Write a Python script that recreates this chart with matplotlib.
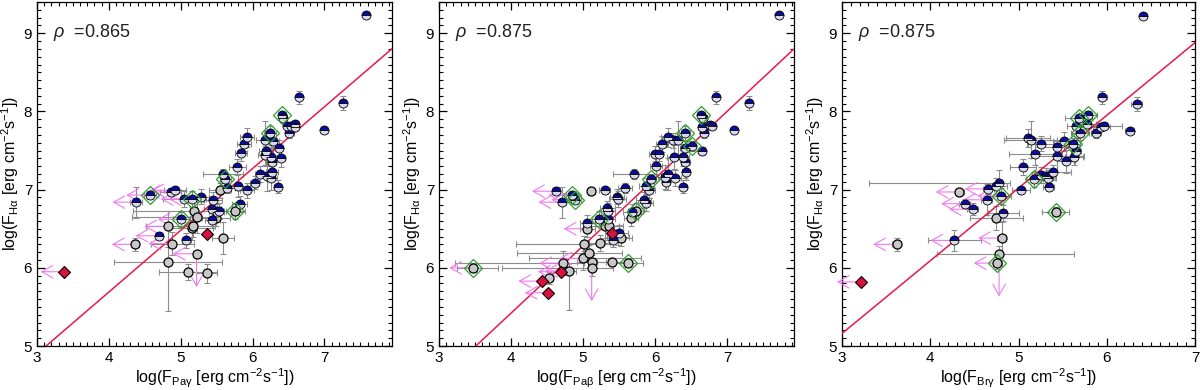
import numpy as np
import matplotlib
matplotlib.use("Agg")
import matplotlib.pyplot as plt

plt.rcParams['font.family'] = ['Liberation Sans', 'DejaVu Sans']
plt.rcParams['mathtext.fontset'] = 'custom'
plt.rcParams['mathtext.rm'] = 'Liberation Sans'
plt.rcParams['mathtext.it'] = 'Liberation Sans:italic'

# ---------------- panel 1 : Pa gamma ----------------
pag_blue_x = [7.58, 6.64, 7.26, 6.99, 6.41, 6.43, 6.48, 6.54, 6.59, 6.59, 6.51, 6.24, 6.17, 6.29,
              5.92, 5.88, 5.84, 6.19, 6.37, 6.17, 6.26, 6.39, 6.27, 5.79, 6.10, 6.20, 6.27, 6.26,
              6.03, 6.35, 5.59, 5.62, 5.65, 5.80, 5.92, 5.28, 4.57, 4.86, 4.92, 4.38, 5.05, 5.16,
              5.45, 5.82, 5.44, 5.50, 5.53, 5.44, 5.01, 4.70, 5.08]
pag_blue_y = [9.23, 8.18, 8.11, 7.76, 7.95, 7.92, 7.82, 7.82, 7.84, 7.80, 7.72, 7.72, 7.64, 7.62,
              7.67, 7.59, 7.47, 7.50, 7.53, 7.44, 7.42, 7.41, 7.35, 7.29, 7.20, 7.18, 7.23, 7.15,
              7.09, 7.04, 7.20, 7.14, 7.02, 7.05, 6.99, 6.91, 6.93, 6.97, 6.99, 6.84, 6.88, 6.88,
              6.87, 6.82, 6.75, 6.71, 6.73, 6.61, 6.62, 6.41, 6.35]
pag_blue_xerr = [0.03, 0.04, 0.04, 0.03, 0.04, 0.04, 0.04, 0.06, 0.04, 0.04, 0.06, 0.08, 0.12, 0.08,
                 0.1, 0.1, 0.08, 0.1, 0.05, 0.1, 0.08, 0.06, 0.06, 0.12, 0.06, 0.1, 0.08, 0.08,
                 0.06, 0.05, 0.28, 0.08, 0.1, 0.12, 0.1, 0.12, 0.08, 0.15, 0.15, 0.08, 0.3, 0.15,
                 0.12, 0.1, 0.12, 0.1, 0.1, 0.1, 0.12, 0.06, 0.06]
pag_blue_yerr = [0.03, 0.08, 0.09, 0.03, 0.04, 0.04, 0.04, 0.04, 0.04, 0.04, 0.06, 0.1, 0.24, 0.1,
                 0.12, 0.1, 0.1, 0.2, 0.1, 0.12, 0.15, 0.12, 0.2, 0.1, 0.1, 0.2, 0.1, 0.15,
                 0.08, 0.08, 0.06, 0.06, 0.06, 0.15, 0.1, 0.1, 0.05, 0.05, 0.05, 0.2, 0.1, 0.1,
                 0.1, 0.1, 0.1, 0.1, 0.1, 0.1, 0.1, 0.05, 0.1]
pag_grey_x = [5.55, 5.19, 5.22, 5.49, 5.75, 4.82, 5.15, 5.17, 5.59, 4.37, 4.88, 5.22, 4.82, 5.10, 5.36]
pag_grey_y = [6.99, 6.73, 6.65, 6.64, 6.73, 6.53, 6.51, 6.54, 6.38, 6.30, 6.31, 6.18, 6.07, 5.95, 5.93]
pag_grey_xerr = [0.15, (0.85, 0.3), (0.9, 0.3), 0.2, 0.15, 0.3, 0.3, 0.3, 0.15, 0.05, 0.3, 0.05,
                 0.75, 0.4, 0.15]
pag_grey_yerr = [0.1, 0.15, 0.2, 0.1, 0.1, 0.2, 0.15, 0.15, 0.2, 0.08, 0.15, 0.05, (0.62, 0.2),
                 0.1, 0.12]
pag_red_x = [3.38, 5.36]
pag_red_y = [5.95, 6.43]
pag_green_x = [6.41, 6.24, 5.62, 4.57, 5.16, 5.01, 5.75]
pag_green_y = [7.95, 7.72, 7.14, 6.93, 6.88, 6.62, 6.73]
pag_ulx_x = [4.38, 4.57, 4.86, 4.92, 5.05, 5.16, 5.01, 4.82, 4.70, 4.37, 4.88, 5.22, 3.38]
pag_ulx_y = [6.84, 6.93, 6.97, 6.99, 6.88, 6.88, 6.62, 6.53, 6.41, 6.30, 6.31, 6.18, 5.95]
pag_uly_x = [5.22]
pag_uly_y = [6.18]
pag_fit = (0.79, 2.53)
pag_rho = 0.865

# ---------------- panel 2 : Pa beta ----------------
pab_blue_x = [7.72, 6.85, 7.31, 7.10, 6.64, 6.67, 6.65, 6.76, 6.79, 6.68, 6.65, 6.41, 6.51, 6.18,
              6.25, 6.32, 6.09, 6.00, 6.05, 6.26, 6.39, 6.41, 6.42, 6.01, 6.43, 6.18, 6.14, 6.28,
              6.15, 6.39, 5.95, 5.88, 5.92, 5.84, 5.87, 5.71, 5.58, 5.30, 5.47, 5.48, 5.34, 5.35,
              5.35, 4.62, 4.85, 4.89, 4.71, 5.22, 5.06, 5.68, 5.50, 5.42]
pab_blue_y = [9.23, 8.18, 8.11, 7.76, 7.95, 7.92, 7.80, 7.83, 7.82, 7.72, 7.49, 7.72, 7.56, 7.67,
              7.63, 7.64, 7.58, 7.46, 7.46, 7.42, 7.42, 7.53, 7.35, 7.30, 7.22, 7.20, 7.16, 7.15,
              7.10, 7.04, 7.14, 7.05, 6.99, 6.87, 6.83, 7.20, 7.02, 6.99, 6.91, 6.88, 6.76, 6.73,
              6.63, 6.98, 6.93, 6.87, 6.84, 6.63, 6.57, 6.72, 6.45, 6.36]
pab_blue_xerr = [0.03, 0.04, 0.04, 0.03, 0.05, 0.05, 0.05, 0.06, 0.06, 0.05, 0.05, 0.08, 0.06, 0.1,
                 0.08, 0.1, 0.08, 0.08, 0.06, 0.1, 0.08, 0.06, 0.06, 0.08, 0.05, 0.1, 0.1, 0.08,
                 0.06, 0.05, 0.06, 0.1, 0.08, 0.1, 0.1, 0.3, 0.1, 0.08, 0.1, 0.12, 0.1, 0.1,
                 0.1, 0.05, 0.08, 0.08, 0.06, 0.1, 0.1, 0.12, 0.12, 0.12]
pab_blue_yerr = [0.03, 0.08, 0.09, 0.03, 0.04, 0.04, 0.04, 0.04, 0.04, 0.06, 0.05, 0.1, 0.06, 0.12,
                 0.1, 0.24, 0.1, 0.1, 0.1, 0.15, 0.12, 0.1, 0.2, 0.1, 0.1, 0.2, 0.15, 0.1,
                 0.1, 0.08, 0.06, 0.1, 0.1, 0.1, 0.1, 0.06, 0.06, 0.05, 0.1, 0.1, 0.1, 0.1,
                 0.1, 0.05, 0.05, 0.05, 0.2, 0.1, 0.1, 0.1, 0.1, 0.1]
pab_grey_x = [5.11, 5.06, 5.30, 5.36, 5.49, 5.53, 5.67, 5.23, 5.02, 5.00, 5.09, 5.12, 5.12, 5.40,
              5.63, 3.47, 4.72, 4.80, 4.53, 5.73]
pab_grey_y = [6.98, 6.50, 6.53, 6.54, 6.39, 6.38, 6.64, 6.32, 6.31, 6.12, 6.19, 6.07, 6.00, 6.07,
              6.06, 6.00, 6.06, 5.96, 5.87, 6.73]
pab_grey_xerr = [0.05, 0.1, 0.2, 0.2, 0.15, 0.15, 0.1, 0.15, (0.95, 0.4), (0.75, 0.8), (1.0, 0.45),
                 0.2, (1.25, 0.3), 0.2, 0.2, (0.22, 0.35), (1.5, 0.3), 0.1, 0.05, 0.1]
pab_grey_yerr = [0.05, 0.1, 0.15, 0.15, 0.1, 0.1, 0.1, 0.1, 0.1, 0.15, 0.1, 0.1, 0.1, 0.05,
                 0.05, 0.05, 0.15, (0.5, 0.1), 0.08, 0.1]
pab_red_x = [5.40, 4.70, 4.43, 4.52]
pab_red_y = [6.44, 5.95, 5.83, 5.68]
pab_green_x = [6.64, 6.41, 6.51, 5.95, 4.85, 4.89, 5.22, 5.73, 5.63, 3.47]
pab_green_y = [7.95, 7.72, 7.56, 7.14, 6.93, 6.87, 6.63, 6.73, 6.06, 6.00]
pab_ulx_x = [4.62, 4.85, 4.89, 4.71, 5.06, 3.47, 4.72, 4.80, 4.70, 4.43, 4.52, 5.00]
pab_ulx_y = [6.98, 6.93, 6.87, 6.84, 6.50, 6.00, 6.06, 5.96, 5.95, 5.83, 5.68, 6.12]
pab_uly_x = [5.12]
pab_uly_y = [6.00]
pab_fit = (0.86, 1.98)
pab_rho = 0.875

# ---------------- panel 3 : Br gamma ----------------
brg_blue_x = [6.41, 5.95, 6.34, 6.26, 5.79, 5.68, 5.65, 5.78, 5.94, 5.97, 5.88, 5.70, 5.62, 5.65,
              5.63, 5.51, 5.44, 5.44, 5.54, 5.11, 5.14, 5.25, 5.19, 5.05, 5.18, 5.25, 5.31, 5.33,
              5.39, 5.34, 5.03, 4.78, 4.75, 4.66, 4.64, 4.80, 4.39, 4.48, 4.83, 4.27]
brg_blue_y = [9.22, 8.18, 8.10, 7.75, 7.95, 7.91, 7.81, 7.84, 7.80, 7.82, 7.72, 7.72, 7.58, 7.49,
              7.42, 7.62, 7.54, 7.43, 7.36, 7.66, 7.64, 7.59, 7.46, 7.29, 7.13, 7.19, 7.18, 7.15,
              7.22, 7.03, 6.99, 7.09, 7.05, 7.01, 6.87, 6.92, 6.82, 6.75, 6.70, 6.35]
brg_blue_xerr = [0.03, 0.05, 0.06, 0.05, 0.1, 0.15, 0.1, 0.1, 0.1, 0.2, 0.06, 0.1, 0.08, 0.06,
                 0.1, 0.12, 0.25, 0.3, 0.1, 0.25, 0.3, 0.15, 0.3, 0.15, 0.1, 0.1, 0.1, 0.1,
                 0.2, 0.06, 0.1, (1.47, 0.12), 0.12, 0.06, 0.06, 0.12, 0.06, 0.06, 0.18, 0.3]
brg_blue_yerr = [0.03, 0.08, 0.09, 0.03, 0.05, 0.05, 0.1, 0.05, 0.05, 0.05, 0.06, 0.08, 0.08, 0.06,
                 0.1, 0.12, 0.1, 0.2, 0.15, 0.12, 0.24, 0.1, 0.15, 0.1, 0.1, 0.1, 0.1, 0.1,
                 0.1, 0.05, 0.05, 0.16, 0.1, 0.06, 0.2, 0.1, 0.06, 0.08, 0.1, 0.13]
brg_grey_x = [4.33, 4.75, 4.81, 4.78, 4.76, 3.62, 5.42]
brg_grey_y = [6.97, 6.64, 6.38, 6.18, 6.06, 6.30, 6.72]
brg_grey_xerr = [0.05, 0.3, 0.05, (0.7, 0.85), 0.05, 0.05, 0.15]
brg_grey_yerr = [0.05, 0.15, 0.2, 0.1, 0.08, 0.08, 0.06]
brg_red_x = [3.21]
brg_red_y = [5.82]
brg_green_x = [5.79, 5.68, 5.70, 5.62, 5.18, 4.80, 4.76, 5.42]
brg_green_y = [7.95, 7.91, 7.72, 7.58, 7.13, 6.92, 6.06, 6.72]
brg_ulx_x = [4.33, 3.62, 3.21, 4.76, 4.81, 4.27, 4.39, 4.48, 4.66, 4.64, 4.80]
brg_ulx_y = [6.97, 6.30, 5.82, 6.06, 6.38, 6.35, 6.82, 6.75, 7.01, 6.87, 6.92]
brg_uly_x = [4.78]
brg_uly_y = [6.06]
brg_fit = (0.93, 2.37)
brg_rho = 0.875

xlabels = [r'log(F$_{\rm Pa\gamma}$ [erg cm$^{-2}$s$^{-1}$])',
           r'log(F$_{\rm Pa\beta}$ [erg cm$^{-2}$s$^{-1}$])',
           r'log(F$_{\rm Br\gamma}$ [erg cm$^{-2}$s$^{-1}$])']
ylabel = r'log(F$_{\rm H\alpha}$ [erg cm$^{-2}$s$^{-1}$])'
xmax = [7.94, 7.93, 7.0]


def to_err(errs):
	# scalar -> symmetric, tuple -> (lower, upper)
	lo = []
	hi = []
	for e in errs:
		if isinstance(e, tuple):
			lo.append(e[0])
			hi.append(e[1])
		else:
			lo.append(e)
			hi.append(e)
	return np.array([lo, hi])


def draw_panel(ax, d, xlab, xm):
	ax.set_xlim(3, xm)
	ax.set_ylim(5, 9.4)
	ebkw = dict(fmt='none', ecolor='#8c8c8c', elinewidth=0.8, capsize=2, capthick=0.8, zorder=2)
	ax.errorbar(d['bx'], d['by'], xerr=to_err(d['bxe']), yerr=to_err(d['bye']), **ebkw)
	ax.errorbar(d['gx'], d['gy'], xerr=to_err(d['gxe']), yerr=to_err(d['gye']), **ebkw)

	xs = np.array([3, xm])
	ax.plot(xs, d['fit'][0] * xs + d['fit'][1], color='#e8194a', lw=1.1, zorder=3)

	akw = dict(arrowstyle='<-,head_length=0.8,head_width=0.45', color='#f07af0', lw=0.8,
	           shrinkA=0, shrinkB=0)
	for x, y in zip(d['ulx'], d['uly']):
		ax.annotate('', xy=(x, y), xytext=(-17, 0), textcoords='offset points', arrowprops=akw, zorder=3)
	for x, y in zip(d['dlx'], d['dly']):
		ax.annotate('', xy=(x, y), xytext=(0, -24), textcoords='offset points', arrowprops=akw, zorder=3)

	ax.plot(d['gx'], d['gy'], 'o', ms=6.5, mfc='#c8c8c8', mec='black', mew=0.9, zorder=4)
	ax.plot(d['bx'], d['by'], 'o', ms=6.5, fillstyle='top', mfc='#0a0aa5', mfcalt='#d9d9ee',
	        mec='black', mew=0.6, zorder=4)
	ax.plot(d['rx'], d['ry'], 'D', ms=6, mfc='#dc1040', mec='black', mew=0.8, zorder=4)
	ax.plot(d['dx'], d['dy'], 'D', ms=9.5, mfc='none', mec='#2ca02c', mew=0.9, zorder=5)

	ax.text(0.045, 0.91, r'$\rho$  =%.3f' % d['rho'], transform=ax.transAxes, fontsize=13,
	        va='center', color='#222222')

	ax.set_xlabel(xlab, fontsize=11.5, labelpad=1)
	ax.set_ylabel(ylabel, fontsize=11.5, labelpad=2)
	ax.set_xticks([3, 4, 5, 6, 7])
	ax.set_yticks([5, 6, 7, 8, 9])
	ax.set_xticks(np.arange(3, xm, 0.1), minor=True)
	ax.set_yticks(np.arange(5, 9.41, 0.1), minor=True)
	ax.tick_params(which='both', direction='in', top=True, right=True, labelsize=11)
	ax.tick_params(which='major', length=6, width=0.9)
	ax.tick_params(which='minor', length=3, width=0.8)
	for s in ax.spines.values():
		s.set_linewidth(0.9)


panels = [
	dict(bx=pag_blue_x, by=pag_blue_y, bxe=pag_blue_xerr, bye=pag_blue_yerr,
	     gx=pag_grey_x, gy=pag_grey_y, gxe=pag_grey_xerr, gye=pag_grey_yerr,
	     rx=pag_red_x, ry=pag_red_y, dx=pag_green_x, dy=pag_green_y,
	     ulx=pag_ulx_x, uly=pag_ulx_y, dlx=pag_uly_x, dly=pag_uly_y, fit=pag_fit, rho=pag_rho),
	dict(bx=pab_blue_x, by=pab_blue_y, bxe=pab_blue_xerr, bye=pab_blue_yerr,
	     gx=pab_grey_x, gy=pab_grey_y, gxe=pab_grey_xerr, gye=pab_grey_yerr,
	     rx=pab_red_x, ry=pab_red_y, dx=pab_green_x, dy=pab_green_y,
	     ulx=pab_ulx_x, uly=pab_ulx_y, dlx=pab_uly_x, dly=pab_uly_y, fit=pab_fit, rho=pab_rho),
	dict(bx=brg_blue_x, by=brg_blue_y, bxe=brg_blue_xerr, bye=brg_blue_yerr,
	     gx=brg_grey_x, gy=brg_grey_y, gxe=brg_grey_xerr, gye=brg_grey_yerr,
	     rx=brg_red_x, ry=brg_red_y, dx=brg_green_x, dy=brg_green_y,
	     ulx=brg_ulx_x, uly=brg_ulx_y, dlx=brg_uly_x, dly=brg_uly_y, fit=brg_fit, rho=brg_rho),
]

fig = plt.figure(figsize=(12, 3.9), dpi=100)
lefts = [37 / 1200, 439 / 1200, 842 / 1200]
widths = [355 / 1200, 355 / 1200, 353 / 1200]
for i in range(3):
	ax = fig.add_axes([lefts[i], 44 / 390, widths[i], 344 / 390])
	draw_panel(ax, panels[i], xlabels[i], xmax[i])

fig.savefig('out.png', dpi=100)
